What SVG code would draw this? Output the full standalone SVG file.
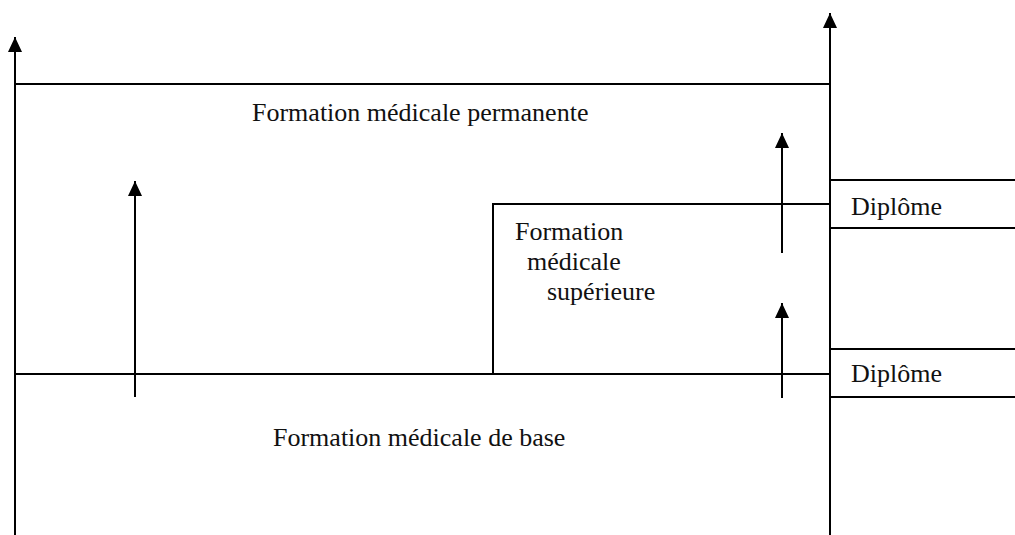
<svg xmlns="http://www.w3.org/2000/svg" width="1015" height="535" viewBox="0 0 1015 535">
  <style>
    .ln { stroke: #000; stroke-width: 2; fill: none; }
    .tx { font-family: "Liberation Serif", "Times New Roman", serif; font-size: 26px; fill: #111; }
    .ar { stroke: #000; stroke-width: 2; fill: none; marker-end: url(#head); }
  </style>
  <defs>
    <marker id="head" viewBox="0 0 15 14" refX="15" refY="7" markerWidth="15" markerHeight="14" markerUnits="userSpaceOnUse" orient="auto">
      <path d="M0,0 L15,7 L0,14 Z" fill="#000"/>
    </marker>
  </defs>
  <rect width="1015" height="535" fill="#fff"/>

  <g id="permanente">
    <line class="ln" x1="15" y1="84" x2="830" y2="84"/>
    <text class="tx" x="252" y="121">Formation médicale permanente</text>
  </g>

  <g id="superieure">
    <polyline class="ln" points="493,374 493,204 830,204"/>
    <text class="tx" x="515" y="240">Formation</text>
    <text class="tx" x="527" y="270">médicale</text>
    <text class="tx" x="547" y="300">supérieure</text>
  </g>

  <g id="base">
    <line class="ln" x1="15" y1="374" x2="830" y2="374"/>
    <text class="tx" x="273" y="446">Formation médicale de base</text>
  </g>

  <g id="diplome1">
    <line class="ln" x1="830" y1="180" x2="1015" y2="180"/>
    <line class="ln" x1="830" y1="228" x2="1015" y2="228"/>
    <text class="tx" x="851" y="215">Diplôme</text>
  </g>

  <g id="diplome2">
    <line class="ln" x1="830" y1="349" x2="1015" y2="349"/>
    <line class="ln" x1="830" y1="397" x2="1015" y2="397"/>
    <text class="tx" x="851" y="382">Diplôme</text>
  </g>

  <g id="connectors">
    <line class="ar" x1="15" y1="535" x2="15" y2="37"/>
    <line class="ar" x1="830" y1="535" x2="830" y2="13"/>
    <line class="ar" x1="135" y1="397" x2="135" y2="181"/>
    <line class="ar" x1="782" y1="253" x2="782" y2="133"/>
    <line class="ar" x1="782" y1="398" x2="782" y2="303"/>
  </g>
</svg>
